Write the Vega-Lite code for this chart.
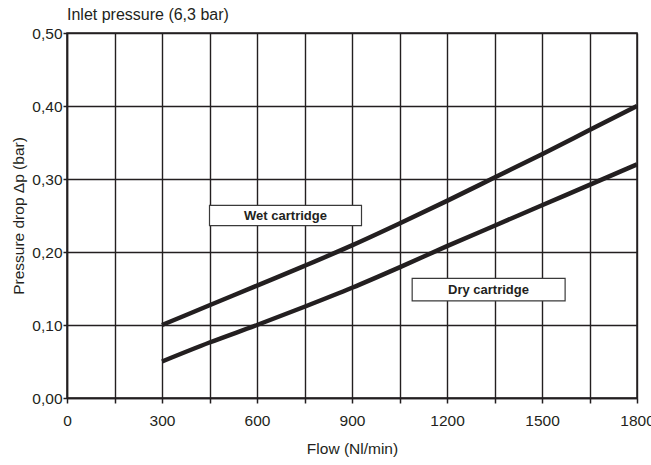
{
  "$schema": "https://vega.github.io/schema/vega-lite/v6.json",
  "width": 570,
  "height": 365,
  "autosize": "none",
  "padding": {"left": 67, "top": 33, "right": 14, "bottom": 67},
  "background": "white",
  "config": {
    "font": "Liberation Sans",
    "view": {"stroke": "#231f20", "strokeWidth": 1.5},
    "axis": {"labelFont": "Liberation Sans", "titleFont": "Liberation Sans", "labelFontSize": 15.5, "titleFontSize": 15.5, "titleFontWeight": "normal", "labelColor": "#231f20", "titleColor": "#231f20"}
  },
  "title": {"text": "Inlet pressure (6,3 bar)", "anchor": "start", "frame": "group", "fontSize": 16, "fontWeight": "normal", "color": "#231f20", "offset": 3, "font": "Liberation Sans"},
  "datasets": {
    "curves": [
      {"flow": 300, "dp": 0.100, "series": "Wet cartridge"},
      {"flow": 450, "dp": 0.127, "series": "Wet cartridge"},
      {"flow": 600, "dp": 0.154, "series": "Wet cartridge"},
      {"flow": 750, "dp": 0.181, "series": "Wet cartridge"},
      {"flow": 900, "dp": 0.209, "series": "Wet cartridge"},
      {"flow": 1050, "dp": 0.239, "series": "Wet cartridge"},
      {"flow": 1200, "dp": 0.270, "series": "Wet cartridge"},
      {"flow": 1350, "dp": 0.302, "series": "Wet cartridge"},
      {"flow": 1500, "dp": 0.334, "series": "Wet cartridge"},
      {"flow": 1650, "dp": 0.367, "series": "Wet cartridge"},
      {"flow": 1800, "dp": 0.400, "series": "Wet cartridge"},
      {"flow": 300, "dp": 0.050, "series": "Dry cartridge"},
      {"flow": 450, "dp": 0.076, "series": "Dry cartridge"},
      {"flow": 600, "dp": 0.100, "series": "Dry cartridge"},
      {"flow": 750, "dp": 0.125, "series": "Dry cartridge"},
      {"flow": 900, "dp": 0.151, "series": "Dry cartridge"},
      {"flow": 1050, "dp": 0.179, "series": "Dry cartridge"},
      {"flow": 1200, "dp": 0.208, "series": "Dry cartridge"},
      {"flow": 1350, "dp": 0.236, "series": "Dry cartridge"},
      {"flow": 1500, "dp": 0.264, "series": "Dry cartridge"},
      {"flow": 1650, "dp": 0.292, "series": "Dry cartridge"},
      {"flow": 1800, "dp": 0.320, "series": "Dry cartridge"}
    ],
    "labels": [
      {"label": "Wet cartridge", "x1": 450, "x2": 930, "y1": 0.236, "y2": 0.264, "xc": 690, "yc": 0.25},
      {"label": "Dry cartridge", "x1": 1090, "x2": 1573, "y1": 0.133, "y2": 0.164, "xc": 1331, "yc": 0.1485}
    ]
  },
  "layer": [
    {
      "data": {"name": "curves"},
      "mark": {"type": "line", "strokeWidth": 4.5, "color": "#231f20", "interpolate": "monotone", "strokeCap": "butt"},
      "encoding": {
        "x": {"field": "flow", "type": "quantitative", "scale": {"domain": [0, 1800], "nice": false, "zero": false},
          "axis": {"title": "Flow (Nl/min)", "values": [0,150,300,450,600,750,900,1050,1200,1350,1500,1650,1800],
            "labelExpr": "datum.value % 300 == 0 ? datum.label : ''", "format": "d",
            "grid": true, "gridColor": "#231f20", "gridOpacity": 1, "gridWidth": 1.4,
            "domainColor": "#231f20", "domainWidth": 1.5, "tickColor": "#231f20", "tickWidth": 1.5, "tickSize": 5,
            "labelPadding": 10, "titlePadding": 13, "labelFlush": false}},
        "y": {"field": "dp", "type": "quantitative", "scale": {"domain": [0, 0.5], "nice": false},
          "axis": {"title": "Pressure drop Δp (bar)", "values": [0, 0.1, 0.2, 0.3, 0.4, 0.5],
            "labelExpr": "replace(format(datum.value, '.2f'), '.', ',')",
            "grid": true, "gridColor": "#231f20", "gridOpacity": 1, "gridWidth": 1.4,
            "domainColor": "#231f20", "domainWidth": 1.5, "tickColor": "#231f20", "tickWidth": 1.5, "tickSize": 4,
            "labelPadding": 1, "titlePadding": 5}},
        "detail": {"field": "series"}
      }
    },
    {
      "data": {"name": "labels"},
      "mark": {"type": "rect", "fill": "white", "stroke": "#3a3a3a", "strokeWidth": 1.2},
      "encoding": {
        "x": {"field": "x1", "type": "quantitative"},
        "x2": {"field": "x2"},
        "y": {"field": "y1", "type": "quantitative"},
        "y2": {"field": "y2"}
      }
    },
    {
      "data": {"name": "labels"},
      "mark": {"type": "text", "fontWeight": "bold", "fontSize": 13, "color": "#231f20", "font": "Liberation Sans"},
      "encoding": {
        "x": {"field": "xc", "type": "quantitative"},
        "y": {"field": "yc", "type": "quantitative"},
        "text": {"field": "label"}
      }
    }
  ]
}
